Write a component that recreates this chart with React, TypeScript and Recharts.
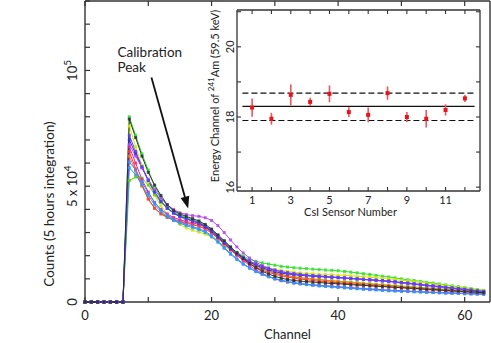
import React from "react";
import {
  ComposedChart,
  LineChart,
  Line,
  Scatter,
  ErrorBar,
  XAxis,
  YAxis,
  ReferenceLine,
  CartesianGrid,
  Label,
} from "recharts";

// channel spectra of the 12 CsI sensors, counts in thousands (channels 0-63)
const CHANNELS = Array.from({ length: 64 }, (_, i) => i);
const BELOW_THRESHOLD = [0, 0, 0, 0, 0, 0, 0];

const green = [...BELOW_THRESHOLD,
  80, 72, 64, 57, 50, 45, 41.5, 39, 37.5, 36.5,
  35.5, 34.5, 33, 31, 28.5, 26, 23.5, 21.5, 19.8, 18.5,
  17.6, 16.9, 16.4, 15.9, 15.4, 15.1, 14.8, 14.6, 14.4, 14.2,
  14.0, 13.8, 13.7, 13.5, 13.2, 12.9, 12.6, 12.2, 11.9, 11.5,
  11.1, 10.8, 10.4, 10.0, 9.6, 9.3, 8.9, 8.5, 8.2, 7.8,
  7.4, 7.0, 6.6, 6.2, 5.8, 5.4, 5.0];
const gray = [...BELOW_THRESHOLD,
  79, 71, 63, 56, 50.5, 46, 42, 39.5, 38, 37,
  36, 35, 33.5, 31.5, 29, 26.5, 23.8, 21.2, 18.8, 16.6,
  14.8, 13.3, 12.1, 11.1, 10.3, 9.7, 9.3, 9.0, 8.8, 8.6,
  8.4, 8.2, 8.0, 7.9, 7.7, 7.5, 7.3, 7.2, 7.0, 6.8,
  6.7, 6.5, 6.3, 6.2, 6.0, 5.9, 5.7, 5.5, 5.4, 5.2,
  5.0, 4.9, 4.7, 4.5, 4.4, 4.2, 4.0];
const yellow = [...BELOW_THRESHOLD,
  76, 67, 59, 52, 46, 41.5, 38, 35.5, 33.5, 32,
  31, 30.2, 29.3, 28, 26.3, 24.2, 22.2, 20.3, 18.7, 17.4,
  16.3, 15.4, 14.7, 14.1, 13.6, 13.2, 12.9, 12.6, 12.4, 12.2,
  12.0, 11.9, 11.8, 11.6, 11.5, 11.3, 11.1, 10.9, 10.7, 10.5,
  10.2, 10.0, 9.7, 9.4, 9.1, 8.8, 8.5, 8.1, 7.8, 7.4,
  7.1, 6.7, 6.3, 6.0, 5.6, 5.2, 4.9];
const blue = [...BELOW_THRESHOLD,
  70, 64, 58, 52.5, 47.5, 43.5, 40.5, 38.5, 37, 36,
  35, 34, 32.5, 30.5, 28, 25.5, 23, 20.8, 19, 17.3,
  15.9, 14.8, 13.9, 13.1, 12.5, 12.1, 11.8, 11.5, 11.3, 11.1,
  10.9, 10.8, 10.6, 10.5, 10.3, 10.1, 9.9, 9.7, 9.6, 9.4,
  9.2, 9.0, 8.7, 8.4, 8.1, 7.8, 7.5, 7.2, 6.9, 6.6,
  6.3, 6.0, 5.7, 5.4, 5.1, 4.7, 4.4];
const purple = [...BELOW_THRESHOLD,
  68, 63, 58, 53, 48.5, 45, 42, 40, 38.5, 37.8,
  37.3, 37, 36.4, 35.2, 33, 30, 26.8, 23.8, 21.2, 19,
  17.2, 15.8, 14.7, 13.8, 13.1, 12.6, 12.2, 11.9, 11.6, 11.4,
  11.2, 11.0, 10.8, 10.6, 10.4, 10.2, 10.0, 9.8, 9.5, 9.3,
  9.0, 8.8, 8.5, 8.2, 7.9, 7.6, 7.3, 7.0, 6.7, 6.4,
  6.1, 5.8, 5.5, 5.2, 4.9, 4.6, 4.3];
const pink = [...BELOW_THRESHOLD,
  67, 60, 53, 47.5, 43, 40, 38, 36.5, 35.5, 34.8,
  34.2, 33.5, 32.3, 30.5, 28, 25.3, 22.7, 20.3, 18, 15.8,
  13.9, 12.4, 11.1, 10.0, 9.2, 8.6, 8.2, 7.9, 7.6, 7.4,
  7.2, 7.0, 6.8, 6.6, 6.4, 6.2, 6.0, 5.8, 5.6, 5.5,
  5.3, 5.1, 5.0, 4.9, 4.7, 4.6, 4.5, 4.3, 4.2, 4.1,
  4.0, 3.9, 3.8, 3.7, 3.6, 3.5, 3.4];
const red = [...BELOW_THRESHOLD,
  65, 57.5, 50.5, 44.5, 40.5, 38, 36.5, 35.4, 34.6, 34,
  33.4, 32.7, 31.6, 29.8, 27.5, 25, 22.5, 20.2, 18.2, 16.5,
  15.0, 13.8, 12.8, 12.0, 11.3, 10.8, 10.3, 9.9, 9.6, 9.3,
  9.0, 8.8, 8.5, 8.3, 8.1, 7.9, 7.6, 7.4, 7.2, 7.0,
  6.8, 6.6, 6.4, 6.2, 6.0, 5.8, 5.6, 5.4, 5.2, 5.0,
  4.8, 4.7, 4.5, 4.3, 4.1, 3.9, 3.8];
const lightBlue = [...BELOW_THRESHOLD,
  60.5, 57, 52, 47, 43, 39.8, 37.5, 35.8, 34.5, 33.5,
  32.6, 31.7, 30.5, 28.7, 26.3, 23.6, 21, 18.7, 16.6, 14.8,
  13.3, 12.0, 11.0, 10.1, 9.4, 8.9, 8.4, 8.0, 7.7, 7.4,
  7.2, 6.9, 6.7, 6.5, 6.3, 6.1, 5.9, 5.7, 5.5, 5.4,
  5.2, 5.0, 4.9, 4.7, 4.6, 4.5, 4.4, 4.2, 4.1, 4.0,
  3.9, 3.8, 3.7, 3.6, 3.5, 3.5, 3.4];
const lime = [...BELOW_THRESHOLD,
  52.5, 54, 53.5, 50.5, 46.5, 43, 40.5, 38.5, 37, 36,
  35, 34, 32.8, 31, 28.6, 26, 23.6, 21.3, 19.2, 17.3,
  15.7, 14.4, 13.3, 12.5, 11.8, 11.3, 10.9, 10.5, 10.2, 9.9,
  9.7, 9.4, 9.2, 9.0, 8.8, 8.6, 8.4, 8.1, 7.9, 7.7,
  7.5, 7.3, 7.1, 6.9, 6.7, 6.5, 6.3, 6.1, 5.9, 5.7,
  5.5, 5.3, 5.1, 4.9, 4.7, 4.5, 4.3];
const orange = [...BELOW_THRESHOLD,
  63, 56.5, 50, 44.5, 40.5, 38.2, 36.8, 35.8, 35, 34.3,
  33.6, 32.8, 31.6, 29.9, 27.7, 25.2, 22.8, 20.6, 18.7, 17,
  15.6, 14.4, 13.4, 12.6, 11.9, 11.4, 10.9, 10.5, 10.2, 9.9,
  9.6, 9.3, 9.1, 8.8, 8.6, 8.4, 8.1, 7.9, 7.7, 7.5,
  7.3, 7.1, 6.9, 6.6, 6.4, 6.2, 6.0, 5.8, 5.6, 5.4,
  5.2, 5.0, 4.8, 4.6, 4.4, 4.2, 4.0];
const violet = [...BELOW_THRESHOLD,
  72, 65, 58.5, 52.5, 47.5, 43.5, 40.5, 38.3, 36.8, 35.8,
  35, 34.1, 32.8, 31, 28.6, 26, 23.5, 21.2, 19.3, 17.7,
  16.4, 15.3, 14.4, 13.7, 13.1, 12.6, 12.2, 11.9, 11.6, 11.4,
  11.2, 11.0, 10.8, 10.6, 10.4, 10.2, 10.0, 9.8, 9.6, 9.4,
  9.2, 9.0, 8.7, 8.4, 8.2, 7.9, 7.6, 7.3, 7.0, 6.7,
  6.4, 6.1, 5.8, 5.5, 5.2, 4.9, 4.6];
const azure = [...BELOW_THRESHOLD,
  58, 55, 50.5, 46, 42, 39, 36.8, 35.2, 34, 33,
  32.1, 31.2, 30, 28.2, 25.8, 23.2, 20.6, 18.3, 16.3, 14.6,
  13.1, 11.9, 10.9, 10.0, 9.3, 8.7, 8.2, 7.8, 7.5, 7.2,
  6.9, 6.7, 6.5, 6.3, 6.1, 5.9, 5.7, 5.5, 5.3, 5.2,
  5.0, 4.8, 4.7, 4.6, 4.5, 4.4, 4.3, 4.2, 4.1, 4.0,
  3.9, 3.8, 3.7, 3.6, 3.6, 3.5, 3.5];

const SERIES = [
  { key: "green", values: green, color: "#2fe02a" },
  { key: "yellow", values: yellow, color: "#d4e600" },
  { key: "lime", values: lime, color: "#55d400" },
  { key: "orange", values: orange, color: "#ff7a1a" },
  { key: "red", values: red, color: "#ff3b2f" },
  { key: "pink", values: pink, color: "#f0209a" },
  { key: "azure", values: azure, color: "#22a0f0" },
  { key: "lightBlue", values: lightBlue, color: "#3d8cff" },
  { key: "blue", values: blue, color: "#2b2bdc" },
  { key: "purple", values: purple, color: "#b048ee" },
  { key: "violet", values: violet, color: "#5a3cff" },
  { key: "gray", values: gray, color: "#2b3030" },
];

const X_TICKS = [0, 10, 20, 30, 40, 50, 60];
const X_LABELED = [0, 20, 40, 60];
const Y_TICKS = [0, 10, 20, 30, 40, 50, 60, 70, 80, 90, 100, 110, 120, 130];

// annotation arrow (channel, thousands of counts)
const ARROW = [
  { x: 10.5, y: 97 },
  { x: 16.3, y: 40.4 },
];

// inset: 241Am line position per sensor
const SENSORS = [1, 2, 3, 4, 5, 6, 7, 8, 9, 10, 11, 12];
const ENERGY = [18.27, 17.95, 18.63, 18.43, 18.66, 18.14, 18.06, 18.68, 18.0, 17.95, 18.2, 18.53];
const ENERGY_ERR = [0.26, 0.17, 0.3, 0.12, 0.24, 0.14, 0.21, 0.19, 0.14, 0.25, 0.16, 0.1];
const MEAN = 18.3;
const BAND = [17.9, 18.68];
const INSET_Y_TICKS = [16, 17, 18, 19, 20, 21];

const rows = CHANNELS.map((ch, i) => {
  const r: any = { ch };
  SERIES.forEach((s) => (r[s.key] = s.values[i]));
  return r;
});
const insetRows = SENSORS.map((s, i) => ({ sensor: s, energy: ENERGY[i], err: ENERGY_ERR[i] }));

const AXIS = "#333";
const FONT = "Lato, 'Open Sans', sans-serif";

const SquareDot = (props: any) => {
  const { cx, cy, stroke } = props;
  if (cx == null || cy == null) return null;
  return <rect x={cx - 1.5} y={cy - 1.5} width={3} height={3} fill={stroke} fillOpacity={0.85} />;
};

const BottomTick = ({ x, y, payload }: any) => (
  <g>
    <line x1={x} y1={y} x2={x} y2={y - 5} stroke={AXIS} strokeWidth={1.2} />
    {X_LABELED.includes(payload.value) && (
      <text x={x} y={y + 18} textAnchor="middle" fontSize={13} fontFamily={FONT} fill="#222">
        {payload.value}
      </text>
    )}
  </g>
);
const TopTick = ({ x, y }: any) => (
  <line x1={x} y1={y} x2={x} y2={y + 5} stroke={AXIS} strokeWidth={1.2} />
);
const RightTick = ({ x, y }: any) => (
  <line x1={x} y1={y} x2={x - 5} y2={y} stroke={AXIS} strokeWidth={1.2} />
);
const LeftTick = ({ x, y, payload }: any) => {
  const v = payload.value;
  let label: React.ReactNode = null;
  if (v === 0) label = "0";
  if (v === 50)
    label = (
      <>
        <tspan>5 x 10</tspan>
        <tspan dy={-6} fontSize={10}>4</tspan>
      </>
    );
  if (v === 100)
    label = (
      <>
        <tspan>10</tspan>
        <tspan dy={-6} fontSize={10}>5</tspan>
      </>
    );
  return (
    <g>
      <line x1={x} y1={y} x2={x + 5} y2={y} stroke={AXIS} strokeWidth={1.2} />
      {label && (
        <text
          transform={`translate(${x - 8.5},${y}) rotate(-90)`}
          textAnchor="middle"
          fontSize={13}
          fontFamily={FONT}
          fill="#222"
        >
          {label}
        </text>
      )}
    </g>
  );
};

const ArrowShape = (p: any) => {
  const { x1, y1, x2, y2 } = p;
  const a = Math.atan2(y2 - y1, x2 - x1);
  const L = 12;
  const W = 4.5;
  const bx = x2 - L * Math.cos(a);
  const by = y2 - L * Math.sin(a);
  const pts = `${x2},${y2} ${bx + W * Math.sin(a)},${by - W * Math.cos(a)} ${bx - W * Math.sin(a)},${by + W * Math.cos(a)}`;
  return (
    <g>
      <line x1={x1} y1={y1} x2={bx} y2={by} stroke="#111" strokeWidth={1.8} />
      <polygon points={pts} fill="#111" />
      <text x={x1 - 34} y={y1 - 20} fontSize={13.5} fontFamily={FONT} fill="#222">
        Calibration
      </text>
      <text x={x1 - 34} y={y1 - 5} fontSize={13.5} fontFamily={FONT} fill="#222">
        Peak
      </text>
    </g>
  );
};

const InsetBottomTick = ({ x, y, payload }: any) => (
  <g>
    <line x1={x} y1={y} x2={x} y2={y - 4} stroke={AXIS} strokeWidth={1.1} />
    {payload.value % 2 === 1 && (
      <text x={x} y={y + 13} textAnchor="middle" fontSize={11} fontFamily={FONT} fill="#222">
        {payload.value}
      </text>
    )}
  </g>
);
const InsetTopTick = ({ x, y }: any) => (
  <line x1={x} y1={y} x2={x} y2={y + 4} stroke={AXIS} strokeWidth={1.1} />
);
const InsetRightTick = ({ x, y }: any) => (
  <line x1={x} y1={y} x2={x - 4} y2={y} stroke={AXIS} strokeWidth={1.1} />
);
const InsetLeftTick = ({ x, y, payload }: any) => (
  <g>
    <line x1={x} y1={y} x2={x + 4} y2={y} stroke={AXIS} strokeWidth={1.1} />
    {payload.value % 2 === 0 && (
      <text
        transform={`translate(${x - 3.5},${y}) rotate(-90)`}
        textAnchor="middle"
        fontSize={11}
        fontFamily={FONT}
        fill="#222"
      >
        {payload.value}
      </text>
    )}
  </g>
);

const RedSquare = (props: any) => {
  const { cx, cy } = props;
  return <rect x={cx - 2} y={cy - 2} width={4} height={4} fill="#e8141c" />;
};

export default function App() {
  return (
    <div style={{ position: "absolute", left: 0, top: 0, width: 491, height: 343, background: "#fff" }}>
      <LineChart width={491} height={343} data={rows} margin={{ top: 0, right: 0, bottom: 40, left: 84 }}>
        <XAxis
          dataKey="ch"
          type="number"
          domain={[0, 64]}
          ticks={X_TICKS}
          interval={0}
          height={1}
          tickSize={0}
          tickMargin={0}
          tickLine={false}
          tick={<BottomTick />}
          stroke={AXIS}
          strokeWidth={1.4}
        >
          <Label
            content={({ viewBox }: any) => (
              <text
                x={viewBox.x + viewBox.width / 2}
                y={viewBox.y + 37}
                textAnchor="middle"
                fontSize={13}
                fontFamily={FONT}
                fill="#222"
              >
                Channel
              </text>
            )}
          />
        </XAxis>
        <XAxis
          xAxisId="top"
          orientation="top"
          dataKey="ch"
          type="number"
          domain={[0, 64]}
          ticks={X_TICKS}
          interval={0}
          height={1}
          tickSize={0}
          tickMargin={0}
          tickLine={false}
          tick={<TopTick />}
          stroke={AXIS}
          strokeWidth={1.4}
        />
        <YAxis
          type="number"
          domain={[0, 130]}
          ticks={Y_TICKS}
          interval={0}
          width={1}
          tickSize={0}
          tickMargin={0}
          tickLine={false}
          tick={<LeftTick />}
          stroke={AXIS}
          strokeWidth={1.4}
        >
          <Label
            content={() => (
              <text
                transform="translate(54,204) rotate(-90)"
                textAnchor="middle"
                fontSize={13.5}
                fontFamily={FONT}
                fill="#222"
              >
                Counts (5 hours integration)
              </text>
            )}
          />
        </YAxis>
        <YAxis
          yAxisId="right"
          orientation="right"
          type="number"
          domain={[0, 130]}
          ticks={Y_TICKS}
          interval={0}
          width={1}
          tickSize={0}
          tickMargin={0}
          tickLine={false}
          tick={<RightTick />}
          stroke={AXIS}
          strokeWidth={1.4}
        />
        {SERIES.map((s) => (
          <Line
            key={s.key}
            dataKey={s.key}
            type="linear"
            stroke={s.color}
            strokeWidth={1}
            dot={<SquareDot />}
            activeDot={false}
            isAnimationActive={false}
          />
        ))}
        <ReferenceLine segment={ARROW} shape={ArrowShape} ifOverflow="visible" />
      </LineChart>

      <div style={{ position: "absolute", left: 200, top: 0 }}>
        <ComposedChart width={291} height={225} data={insetRows} margin={{ top: 9, right: 10, bottom: 33, left: 36 }}>
          <CartesianGrid fill="#fff" fillOpacity={1} horizontal={false} vertical={false} />
          <XAxis
            dataKey="sensor"
            type="number"
            domain={[0.22, 12.78]}
            ticks={SENSORS}
            interval={0}
            height={1}
            tickSize={0}
            tickMargin={0}
            tickLine={false}
            tick={<InsetBottomTick />}
            stroke={AXIS}
            strokeWidth={1.3}
            allowDataOverflow
          >
            <Label
              content={({ viewBox }: any) => (
                <text
                  x={viewBox.x + viewBox.width / 2 - 8}
                  y={viewBox.y + 25}
                  textAnchor="middle"
                  fontSize={11}
                  fontFamily={FONT}
                  fill="#222"
                >
                  CsI Sensor Number
                </text>
              )}
            />
          </XAxis>
          <XAxis
            xAxisId="top"
            orientation="top"
            dataKey="sensor"
            type="number"
            domain={[0.22, 12.78]}
            ticks={SENSORS}
            interval={0}
            height={1}
            tickSize={0}
            tickMargin={0}
            tickLine={false}
            tick={<InsetTopTick />}
            stroke={AXIS}
            strokeWidth={1.3}
            allowDataOverflow
          />
          <YAxis
            type="number"
            domain={[15.89, 21.05]}
            ticks={INSET_Y_TICKS}
            interval={0}
            width={1}
            tickSize={0}
            tickMargin={0}
            tickLine={false}
            tick={<InsetLeftTick />}
            stroke={AXIS}
            strokeWidth={1.3}
            allowDataOverflow
          >
            <Label
              content={() => (
                <text
                  transform="translate(19,96) rotate(-90)"
                  textAnchor="middle"
                  fontSize={11}
                  fontFamily={FONT}
                  fill="#222"
                >
                  <tspan>Energy Channel of </tspan>
                  <tspan dy={-5} fontSize={8}>241</tspan>
                  <tspan dy={5}>Am (59.5 keV)</tspan>
                </text>
              )}
            />
          </YAxis>
          <YAxis
            yAxisId="right"
            orientation="right"
            type="number"
            domain={[15.89, 21.05]}
            ticks={INSET_Y_TICKS}
            interval={0}
            width={1}
            tickSize={0}
            tickMargin={0}
            tickLine={false}
            tick={<InsetRightTick />}
            stroke={AXIS}
            strokeWidth={1.3}
            allowDataOverflow
          />
          <ReferenceLine segment={[{ x: 0.5, y: MEAN }, { x: 12.5, y: MEAN }]} stroke="#111" strokeWidth={1.2} />
          {BAND.map((b) => (
            <ReferenceLine
              key={b}
              segment={[{ x: 0.5, y: b }, { x: 12.5, y: b }]}
              stroke="#111"
              strokeWidth={1.2}
              strokeDasharray="6 3"
            />
          ))}
          <Scatter dataKey="energy" shape={<RedSquare />} fill="#e8141c" isAnimationActive={false}>
            <ErrorBar dataKey="err" direction="y" width={0} stroke="#f2545b" strokeWidth={1.6} />
          </Scatter>
        </ComposedChart>
      </div>
    </div>
  );
}
